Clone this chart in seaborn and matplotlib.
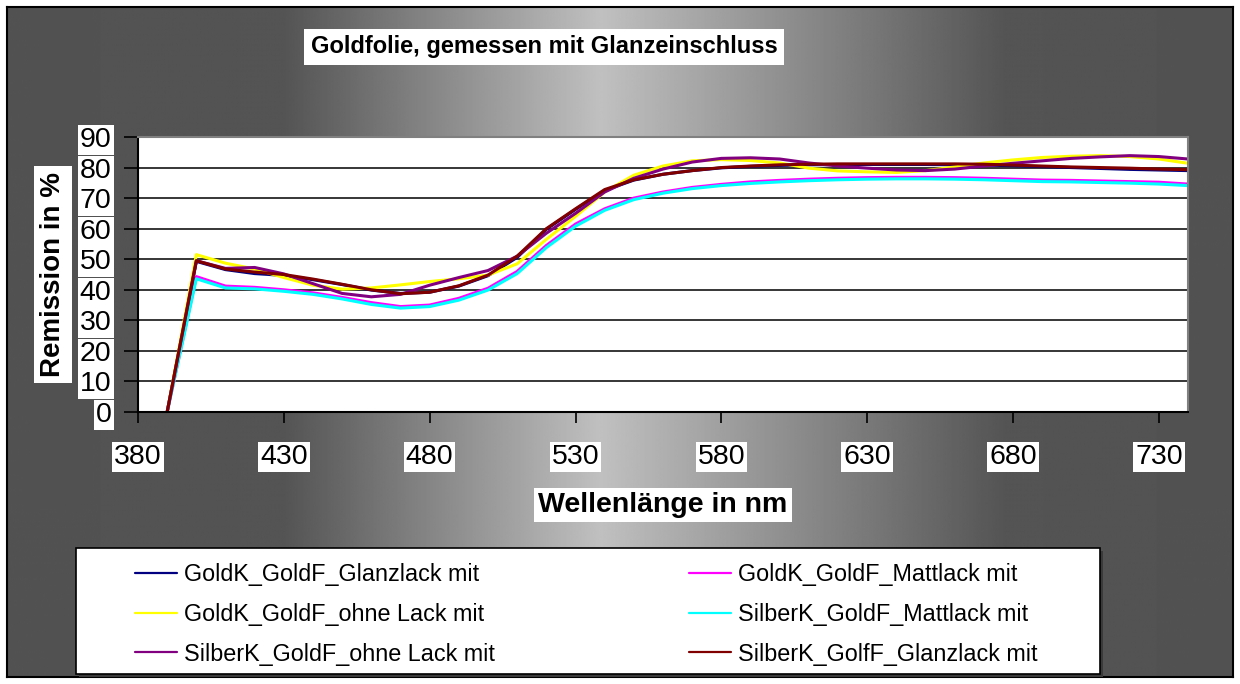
import numpy as np
import pandas as pd
import seaborn as sns
import matplotlib.pyplot as plt
from matplotlib.patches import Rectangle
from matplotlib.lines import Line2D

# Wellenlaenge in nm, alle 10 nm gemessen
wavelength = list(range(390, 750, 10))

# Remission in %
goldk_glanzlack = [0, 49.3, 46.6, 45.3, 44.7, 43.3, 41.7, 39.9, 38.8, 39.2, 41.2, 44.6, 50.6, 59.8,
                   66.3, 72.5, 75.9, 77.8, 79.0, 79.9, 80.4, 80.7, 80.9, 81.0, 81.0, 81.0, 81.0, 80.9,
                   80.8, 80.6, 80.3, 80.0, 79.7, 79.4, 79.2, 79.0]
goldk_mattlack = [0, 44.3, 41.2, 40.8, 40.0, 39.0, 37.5, 35.8, 34.5, 35.0, 37.2, 40.5, 46.0, 54.5,
                  61.5, 66.5, 70.0, 72.0, 73.5, 74.5, 75.3, 75.8, 76.2, 76.5, 76.7, 76.8, 76.8, 76.7,
                  76.5, 76.2, 75.9, 75.8, 75.6, 75.4, 75.2, 74.6]
goldk_ohne = [0, 51.5, 48.7, 46.8, 44.0, 41.5, 40.2, 40.6, 41.6, 42.7, 43.6, 44.8, 48.5, 56.5,
              64.0, 72.0, 77.5, 80.5, 82.2, 82.6, 82.3, 81.5, 79.8, 78.9, 78.6, 78.4, 79.0, 80.2,
              81.5, 82.5, 83.3, 83.7, 83.9, 83.6, 82.8, 81.4]
silberk_mattlack = [0, 43.6, 40.6, 40.3, 39.5, 38.5, 37.0, 35.2, 34.0, 34.5, 36.6, 39.9, 45.3, 53.8,
                    60.8, 66.0, 69.5, 71.6, 73.1, 74.1, 74.8, 75.3, 75.7, 76.0, 76.2, 76.3, 76.3, 76.2,
                    76.0, 75.7, 75.4, 75.3, 75.1, 74.9, 74.6, 74.1]
silberk_ohne = [0, 49.5, 47.0, 47.3, 45.2, 42.0, 38.8, 37.7, 38.5, 41.5, 44.0, 46.3, 51.0, 58.5,
                65.0, 72.0, 76.5, 79.5, 81.8, 83.0, 83.2, 82.8, 81.5, 80.5, 79.8, 79.2, 79.0, 79.5,
                80.5, 81.4, 82.2, 83.0, 83.5, 83.9, 83.6, 82.8]
silberk_glanzlack = [0, 49.5, 46.8, 45.8, 45.0, 43.5, 41.8, 40.0, 38.7, 39.2, 41.3, 44.8, 51.0, 60.0,
                     66.5, 72.8, 76.0, 77.8, 79.0, 80.0, 80.5, 80.9, 81.1, 81.2, 81.2, 81.2, 81.2, 81.2,
                     81.1, 80.8, 80.5, 80.2, 80.0, 79.8, 79.5, 79.3]

series_names = ["GoldK_GoldF_Glanzlack mit", "GoldK_GoldF_Mattlack mit", "GoldK_GoldF_ohne Lack mit",
                "SilberK_GoldF_Mattlack mit", "SilberK_GoldF_ohne Lack mit", "SilberK_GolfF_Glanzlack mit"]
series_values = [goldk_glanzlack, goldk_mattlack, goldk_ohne,
                 silberk_mattlack, silberk_ohne, silberk_glanzlack]
series_colors = ["#000080", "#FF00FF", "#FFFF00", "#00FFFF", "#800080", "#800000"]

yticks = list(range(0, 100, 10))
xticks = list(range(380, 740, 50))

title = "Goldfolie, gemessen mit Glanzeinschluss"
xlabel = "Wellenlänge in nm"
ylabel = "Remission in %"

# long format for seaborn
df = pd.concat([pd.DataFrame({"nm": wavelength, "rem": vals, "serie": name})
                for name, vals in zip(series_names, series_values)], ignore_index=True)

sns.set_style("white")
plt.rcParams["font.family"] = ["Liberation Sans", "DejaVu Sans"]
plt.rcParams.update({"text.color": "black", "axes.labelcolor": "black",
                     "xtick.color": "black", "ytick.color": "black"})

W, H = 1240, 684
fig = plt.figure(figsize=(W / 100, H / 100), dpi=100)
fig.patch.set_facecolor("white")

# grey gradient background (light in the middle, dark at the sides)
bg = fig.add_axes([7 / W, 7 / H, (W - 14) / W, (H - 14) / H], zorder=-10)
px = np.arange(W)
prof = np.interp(px, [0, 280, 600, 1010, W], [82, 84, 192, 84, 82])
bg.imshow(np.tile(prof, (2, 1)), cmap="gray", vmin=0, vmax=255, aspect="auto",
          extent=[0, W, 0, H], interpolation="bilinear")
bg.set_xticks([])
bg.set_yticks([])
for s in bg.spines.values():
    s.set_color("black")
    s.set_linewidth(1.5)

# plot area
ax = fig.add_axes([138 / W, 1 - 412 / H, 1050 / W, 275 / H])
ax.set_facecolor("white")
sns.lineplot(data=df, x="nm", y="rem", hue="serie", hue_order=series_names,
             palette=dict(zip(series_names, series_colors)), estimator=None, sort=False,
             legend=False, linewidth=2.2, ax=ax)

ax.set_xlim(380, 740)
ax.set_ylim(0, 90)
ax.set_xticks(xticks)
ax.set_yticks(yticks)
ax.grid(axis="y", color="black", linewidth=1.1)
ax.grid(axis="x", visible=False)
ax.tick_params(axis="x", direction="out", length=8, width=1.2, color="black",
               labelsize=20.5, labelcolor="black", pad=15, bottom=True)
ax.tick_params(axis="y", direction="out", length=10, width=1.2, color="black",
               labelsize=20.5, labelcolor="black", pad=9, left=True)
for lab in ax.get_xticklabels() + ax.get_yticklabels():
    lab.set_bbox(dict(facecolor="white", edgecolor="none", pad=1.5))

ax.spines["left"].set_color("black")
ax.spines["bottom"].set_color("black")
ax.spines["top"].set_color("#808080")
ax.spines["right"].set_color("#808080")
for s in ax.spines.values():
    s.set_linewidth(1.5)

ax.set_xlabel(xlabel, fontsize=20.5, fontweight="bold", color="black",
              bbox=dict(facecolor="white", edgecolor="none", pad=3))
ax.xaxis.set_label_coords(0.5, (412 - 505) / 275)
ax.xaxis.label.set_verticalalignment("center")
ax.set_ylabel(ylabel, fontsize=20, fontweight="bold", color="black",
              bbox=dict(facecolor="white", edgecolor="none", pad=4))
ax.yaxis.set_label_coords((53 - 138) / 1050, 0.5)
ax.yaxis.label.set_verticalalignment("center")

fig.text(544 / W, 1 - 47 / H, title, ha="center", va="center", fontsize=17, fontweight="bold",
         color="black", bbox=dict(facecolor="white", edgecolor="none", pad=5))

# legend box with a light shadow
fig.add_artist(Rectangle((79 / W, 1 - 677 / H), 1024 / W, 126 / H, transform=fig.transFigure,
                         facecolor="#3a3a3a", edgecolor="none", zorder=0.9))
fig.add_artist(Rectangle((76 / W, 1 - 674 / H), 1024 / W, 126 / H, transform=fig.transFigure,
                         facecolor="white", edgecolor="black", linewidth=1.2, zorder=1))
order = [0, 2, 4, 1, 3, 5]
handles = [Line2D([], [], color=series_colors[i], linewidth=1.6) for i in order]
labels = [series_names[i] for i in order]
fig.legend(handles, labels, loc="upper left", bbox_to_anchor=(135 / W, 1 - 563 / H),
           ncol=2, frameon=False, fontsize=16.8, borderpad=0, handlelength=1.8,
           handletextpad=0.3, labelspacing=0.72, columnspacing=8.32, borderaxespad=0,
           labelcolor="black")

fig.savefig("out.png", dpi=100, facecolor=fig.get_facecolor())
